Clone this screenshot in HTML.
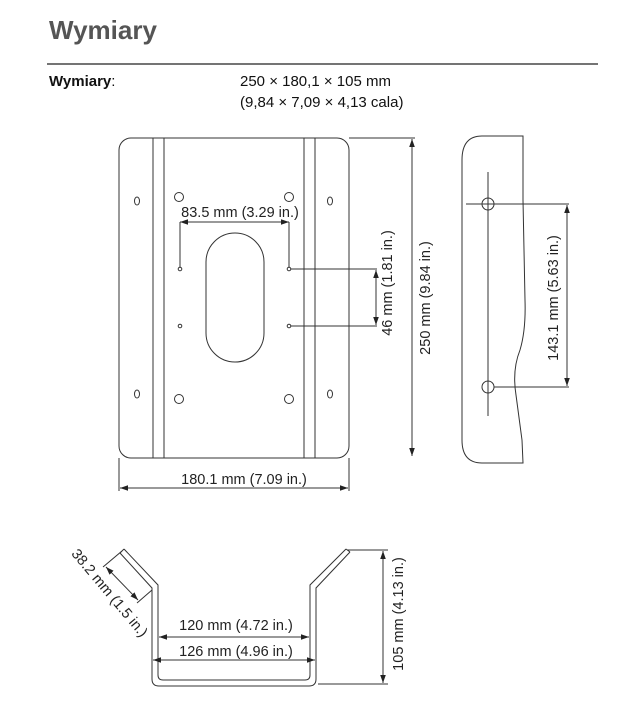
<!DOCTYPE html>
<html><head><style>
body{margin:0;background:#fff;width:622px;height:700px;overflow:hidden;font-family:"Liberation Sans",sans-serif;}
</style></head><body>
<svg width="622" height="700" xmlns="http://www.w3.org/2000/svg" font-family="Liberation Sans, sans-serif">
<defs>
<marker id="a" viewBox="0 0 10 10" refX="10" refY="5" markerWidth="8" markerHeight="8" orient="auto-start-reverse"><path d="M0,1.5 L10,5 L0,8.5z" fill="#222"/></marker>
</defs>
<text x="49" y="39" font-size="26" font-weight="bold" fill="#555">Wymiary</text>
<line x1="47" y1="64" x2="598" y2="64" stroke="#222" stroke-width="1.3"/>
<text x="49" y="86" font-size="15" font-weight="bold" fill="#111">Wymiary<tspan font-weight="normal">:</tspan></text>
<text x="240" y="86" font-size="15" fill="#111">250 × 180,1 × 105 mm</text>
<text x="240" y="107" font-size="15" fill="#111">(9,84 × 7,09 × 4,13 cala)</text>
<g stroke="#333" stroke-width="1" fill="none">
<rect x="119" y="138" width="230" height="320" rx="12"/>
<line x1="153" y1="138" x2="153" y2="458"/><line x1="164" y1="138" x2="164" y2="458"/>
<line x1="304" y1="138" x2="304" y2="458"/><line x1="315" y1="138" x2="315" y2="458"/>
<circle cx="179" cy="197" r="4.5"/><circle cx="289" cy="197" r="4.5"/>
<circle cx="179" cy="399" r="4.5"/><circle cx="289" cy="399" r="4.5"/>
<ellipse cx="137" cy="201" rx="2.5" ry="4"/><ellipse cx="330" cy="201" rx="2.5" ry="4"/>
<ellipse cx="137" cy="394" rx="2.5" ry="4"/><ellipse cx="330" cy="394" rx="2.5" ry="4"/>
<circle cx="180" cy="269" r="1.8"/><circle cx="289" cy="269" r="1.8"/>
<circle cx="180" cy="326" r="1.8"/><circle cx="289" cy="326" r="1.8"/>
<rect x="206" y="233" width="58" height="129" rx="29"/>
<line x1="180" y1="222" x2="180" y2="267"/><line x1="289" y1="222" x2="289" y2="267"/>
<line x1="180" y1="222" x2="289" y2="222" marker-start="url(#a)" marker-end="url(#a)"/>
<line x1="291" y1="269" x2="377" y2="269"/><line x1="291" y1="326" x2="377" y2="326"/>
<line x1="376" y1="270" x2="376" y2="325" marker-start="url(#a)" marker-end="url(#a)"/>
<line x1="349" y1="138" x2="415" y2="138"/>
<line x1="412" y1="139" x2="412" y2="456" marker-start="url(#a)" marker-end="url(#a)"/>
<line x1="119" y1="458" x2="119" y2="491"/><line x1="349" y1="458" x2="349" y2="491"/>
<line x1="120" y1="488" x2="348" y2="488" marker-start="url(#a)" marker-end="url(#a)"/>
<path d="M523,136 L482,136 Q462,136 462,160 L462,440 Q462,463 482,463 L523,463 L522,440 Q518,410 516,395 Q512,370 520,350 Q526,330 525,300 L523,200 Z"/>
<line x1="488" y1="172" x2="488" y2="416"/>
<circle cx="488" cy="204" r="6"/><circle cx="488" cy="387" r="6"/>
<line x1="466" y1="204" x2="569" y2="204"/><line x1="494" y1="387" x2="569" y2="387"/>
<line x1="567" y1="205" x2="567" y2="386" marker-start="url(#a)" marker-end="url(#a)"/>
<path d="M124,549 L158,585 L158,675 Q158,680 163,680 L305,680 Q310,680 310,675 L310,585 L346,549"/>
<path d="M120,553 L152,588 L152,679 Q152,686 159,686 L309,686 Q316,686 316,679 L316,588 L350,552"/>
<path d="M120,553 L124,549 M346,549 L350,552"/>
<line x1="103" y1="567" x2="122" y2="551"/><line x1="137" y1="603" x2="152" y2="590"/>
<line x1="106" y1="567" x2="138" y2="600" marker-start="url(#a)" marker-end="url(#a)"/>
<line x1="159" y1="637" x2="309" y2="637" marker-start="url(#a)" marker-end="url(#a)"/>
<line x1="153" y1="660" x2="315" y2="660" marker-start="url(#a)" marker-end="url(#a)"/>
<line x1="347" y1="550" x2="388" y2="550"/><line x1="318" y1="684" x2="388" y2="684"/>
<line x1="383" y1="551" x2="383" y2="683" marker-start="url(#a)" marker-end="url(#a)"/>
</g>
<g font-size="14.5" fill="#222" text-anchor="middle">
<text x="240" y="217">83.5 mm (3.29 in.)</text>
<text x="244" y="484">180.1 mm (7.09 in.)</text>
<text x="236" y="630">120 mm (4.72 in.)</text>
<text x="236" y="656">126 mm (4.96 in.)</text>
<text transform="translate(392,283) rotate(-90)">46 mm (1.81 in.)</text>
<text transform="translate(430,298) rotate(-90)">250 mm (9.84 in.)</text>
<text transform="translate(558,298) rotate(-90)">143.1 mm (5.63 in.)</text>
<text transform="translate(403,614) rotate(-90)">105 mm (4.13 in.)</text>
<text transform="translate(106,596) rotate(50)">38.2 mm (1.5 in.)</text>
</g>
</svg>
</body></html>
